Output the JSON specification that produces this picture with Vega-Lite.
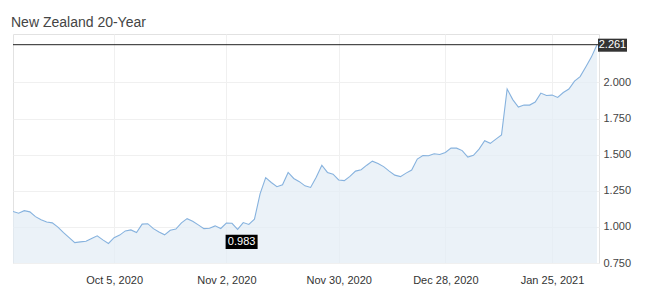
{
  "$schema": "https://vega.github.io/schema/vega-lite/v6.json",
  "width": 586,
  "height": 229,
  "autosize": "none",
  "padding": {"left": 13, "top": 34, "right": 51, "bottom": 37},
  "background": "#ffffff",
  "title": {"text": "New Zealand 20-Year", "anchor": "start", "frame": "group", "font": "Liberation Sans, Arial", "fontSize": 14, "fontWeight": "normal", "color": "#444444", "baseline": "alphabetic", "offset": 12, "dx": -2, "dy": 19},
  "data": {"values": [
    {"date": "2020-09-09", "value": 1.107}, {"date": "2020-09-10", "value": 1.095}, {"date": "2020-09-11", "value": 1.112},
    {"date": "2020-09-14", "value": 1.104}, {"date": "2020-09-15", "value": 1.071}, {"date": "2020-09-16", "value": 1.049},
    {"date": "2020-09-17", "value": 1.034}, {"date": "2020-09-18", "value": 1.028}, {"date": "2020-09-21", "value": 0.998},
    {"date": "2020-09-22", "value": 0.960}, {"date": "2020-09-23", "value": 0.925}, {"date": "2020-09-24", "value": 0.891},
    {"date": "2020-09-25", "value": 0.896}, {"date": "2020-09-28", "value": 0.901}, {"date": "2020-09-29", "value": 0.920},
    {"date": "2020-09-30", "value": 0.938}, {"date": "2020-10-01", "value": 0.910}, {"date": "2020-10-02", "value": 0.885},
    {"date": "2020-10-05", "value": 0.925}, {"date": "2020-10-06", "value": 0.943}, {"date": "2020-10-07", "value": 0.972},
    {"date": "2020-10-08", "value": 0.979}, {"date": "2020-10-09", "value": 0.961}, {"date": "2020-10-12", "value": 1.019},
    {"date": "2020-10-13", "value": 1.022}, {"date": "2020-10-14", "value": 0.988}, {"date": "2020-10-15", "value": 0.965},
    {"date": "2020-10-16", "value": 0.945}, {"date": "2020-10-19", "value": 0.977}, {"date": "2020-10-20", "value": 0.985},
    {"date": "2020-10-21", "value": 1.028}, {"date": "2020-10-22", "value": 1.057}, {"date": "2020-10-23", "value": 1.039},
    {"date": "2020-10-26", "value": 1.014}, {"date": "2020-10-27", "value": 0.988}, {"date": "2020-10-28", "value": 0.991},
    {"date": "2020-10-29", "value": 1.007}, {"date": "2020-10-30", "value": 0.989}, {"date": "2020-11-02", "value": 1.026},
    {"date": "2020-11-03", "value": 1.025}, {"date": "2020-11-04", "value": 0.983}, {"date": "2020-11-05", "value": 1.030},
    {"date": "2020-11-06", "value": 1.017}, {"date": "2020-11-09", "value": 1.053}, {"date": "2020-11-10", "value": 1.229},
    {"date": "2020-11-11", "value": 1.341}, {"date": "2020-11-12", "value": 1.307}, {"date": "2020-11-13", "value": 1.278},
    {"date": "2020-11-16", "value": 1.292}, {"date": "2020-11-17", "value": 1.377}, {"date": "2020-11-18", "value": 1.335},
    {"date": "2020-11-19", "value": 1.313}, {"date": "2020-11-20", "value": 1.284}, {"date": "2020-11-23", "value": 1.273},
    {"date": "2020-11-24", "value": 1.344}, {"date": "2020-11-25", "value": 1.427}, {"date": "2020-11-26", "value": 1.377},
    {"date": "2020-11-27", "value": 1.365}, {"date": "2020-11-30", "value": 1.325}, {"date": "2020-12-01", "value": 1.320},
    {"date": "2020-12-02", "value": 1.350}, {"date": "2020-12-03", "value": 1.386}, {"date": "2020-12-04", "value": 1.396},
    {"date": "2020-12-07", "value": 1.427}, {"date": "2020-12-08", "value": 1.455}, {"date": "2020-12-09", "value": 1.438},
    {"date": "2020-12-10", "value": 1.417}, {"date": "2020-12-11", "value": 1.386}, {"date": "2020-12-14", "value": 1.358},
    {"date": "2020-12-15", "value": 1.348}, {"date": "2020-12-16", "value": 1.372}, {"date": "2020-12-17", "value": 1.393},
    {"date": "2020-12-18", "value": 1.469}, {"date": "2020-12-21", "value": 1.493}, {"date": "2020-12-22", "value": 1.492},
    {"date": "2020-12-23", "value": 1.506}, {"date": "2020-12-24", "value": 1.501}, {"date": "2020-12-28", "value": 1.515},
    {"date": "2020-12-29", "value": 1.545}, {"date": "2020-12-30", "value": 1.545}, {"date": "2020-12-31", "value": 1.528},
    {"date": "2021-01-04", "value": 1.483}, {"date": "2021-01-05", "value": 1.495}, {"date": "2021-01-06", "value": 1.538},
    {"date": "2021-01-07", "value": 1.596}, {"date": "2021-01-08", "value": 1.578}, {"date": "2021-01-11", "value": 1.607},
    {"date": "2021-01-12", "value": 1.637}, {"date": "2021-01-13", "value": 1.954}, {"date": "2021-01-14", "value": 1.881},
    {"date": "2021-01-15", "value": 1.829}, {"date": "2021-01-18", "value": 1.843}, {"date": "2021-01-19", "value": 1.843},
    {"date": "2021-01-20", "value": 1.864}, {"date": "2021-01-21", "value": 1.926}, {"date": "2021-01-22", "value": 1.909},
    {"date": "2021-01-25", "value": 1.912}, {"date": "2021-01-26", "value": 1.896}, {"date": "2021-01-27", "value": 1.930},
    {"date": "2021-01-28", "value": 1.954}, {"date": "2021-01-29", "value": 2.009}, {"date": "2021-02-01", "value": 2.040},
    {"date": "2021-02-02", "value": 2.106}, {"date": "2021-02-03", "value": 2.175}, {"date": "2021-02-04", "value": 2.261}
  ]},
  "layer": [
    {
      "mark": {"type": "area", "color": "#e3ecf5", "clip": true, "line": {"color": "#86b2de", "strokeWidth": 1.1}},
      "encoding": {
        "x": {"field": "date", "type": "ordinal", "sort": "ascending", "title": null,
              "scale": {"type": "point", "padding": 0.18, "align": 0},
              "axis": {"title": null, "values": ["2020-10-05", "2020-11-02", "2020-11-30", "2020-12-28", "2021-01-25"],
                       "labelExpr": "utcFormat(toDate(datum.value), '%b %-d, %Y')",
                       "labelAngle": 0, "ticks": false, "tickSize": 0, "domain": false, "labelPadding": 11,
                       "grid": true, "gridColor": "#f0f0f0", "labelFont": "Liberation Sans, Arial", "labelFontSize": 11, "labelColor": "#333333"}},
        "y": {"field": "value", "type": "quantitative", "title": null,
              "scale": {"domain": [0.75, 2.335], "nice": false, "zero": false},
              "axis": {"title": null, "orient": "right", "values": [0.75, 1, 1.25, 1.5, 1.75, 2], "format": ".3f",
                       "ticks": false, "tickSize": 0, "domain": false, "labelPadding": 4, "labelOverlap": false,
                       "grid": true, "gridColor": "#f0f0f0", "labelFont": "Liberation Sans, Arial", "labelFontSize": 11, "labelColor": "#444444"}}
      }
    },
    {
      "transform": [{"filter": "datum.date == '2021-02-04'"}],
      "mark": {"type": "rule", "color": "#222222", "strokeWidth": 1},
      "encoding": {"y": {"field": "value", "type": "quantitative", "title": null}}
    },
    {
      "transform": [{"filter": "datum.date == '2020-11-04'"}],
      "mark": {"type": "point", "shape": "M-1,-0.45L1,-0.45L1,0.45L-1,0.45Z", "size": 1024, "filled": true, "color": "#000000", "opacity": 1, "xOffset": 4, "yOffset": 12.5},
      "encoding": {"x": {"field": "date", "type": "ordinal", "title": null}, "y": {"field": "value", "type": "quantitative", "title": null}}
    },
    {
      "transform": [{"filter": "datum.date == '2020-11-04'"}],
      "mark": {"type": "text", "color": "#ffffff", "font": "Liberation Sans, Arial", "fontSize": 11, "xOffset": 4, "yOffset": 12.5, "baseline": "middle", "align": "center"},
      "encoding": {"x": {"field": "date", "type": "ordinal", "title": null}, "y": {"field": "value", "type": "quantitative", "title": null}, "text": {"field": "value", "type": "quantitative", "format": ".3f"}}
    },
    {
      "transform": [{"filter": "datum.date == '2021-02-04'"}],
      "mark": {"type": "point", "shape": "M-1,-0.45L1,-0.45L1,0.45L-1,0.45Z", "size": 841, "filled": true, "color": "#333333", "opacity": 1, "xOffset": 15.5, "yOffset": 0.5},
      "encoding": {"x": {"field": "date", "type": "ordinal", "title": null}, "y": {"field": "value", "type": "quantitative", "title": null}}
    },
    {
      "transform": [{"filter": "datum.date == '2021-02-04'"}],
      "mark": {"type": "text", "color": "#ffffff", "font": "Liberation Sans, Arial", "fontSize": 11, "xOffset": 15.5, "yOffset": 0.5, "baseline": "middle", "align": "center"},
      "encoding": {"x": {"field": "date", "type": "ordinal", "title": null}, "y": {"field": "value", "type": "quantitative", "title": null}, "text": {"field": "value", "type": "quantitative", "format": ".3f"}}
    }
  ],
  "config": {"view": {"stroke": "#e2e2e2"}}
}
